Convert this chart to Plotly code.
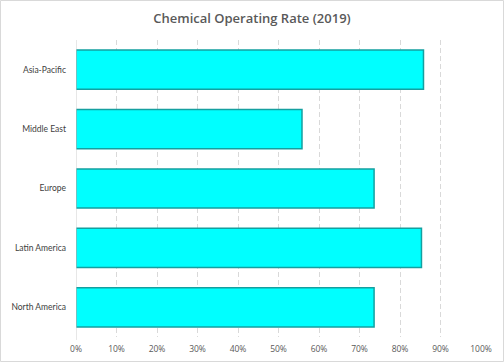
import plotly.graph_objects as go

regions = ["North America", "Latin America", "Europe", "Middle East", "Asia-Pacific"]
rates = [0.736, 0.853, 0.736, 0.558, 0.858]
tick_vals = [0, 0.1, 0.2, 0.3, 0.4, 0.5, 0.6, 0.7, 0.8, 0.9, 1.0]
tick_text = ["0%", "10%", "20%", "30%", "40%", "50%", "60%", "70%", "80%", "90%", "100%"]

W, H = 504, 362
L, R, T, B = 76, 23, 40, 25
pw, ph = W - L - R, H - T - B

fig = go.Figure()
fig.add_trace(go.Bar(
    y=regions, x=rates, orientation="h",
    marker=dict(color="#00FFFF", line=dict(color="#14a0a0", width=1.5)),
    hoverinfo="x+y",
))

fig.update_layout(
    width=W, height=H,
    margin=dict(l=L, r=R, t=T, b=B, autoexpand=False),
    paper_bgcolor="white", plot_bgcolor="white",
    bargap=0.34,
    showlegend=False,
    title=dict(text="Chemical Operating Rate (2019)", x=0.5, xanchor="center",
               y=1 - 18 / H, yanchor="middle", automargin=False,
               font=dict(family="Open Sans", size=13, weight=600, color="#595959")),
    font=dict(family="Open Sans", size=9, color="#595959"),
    xaxis=dict(range=[0, 1], tickvals=tick_vals, ticktext=tick_text,
               showgrid=True, gridcolor="#d9d9d9", griddash="5px,3px", gridwidth=1,
               zeroline=False, showline=False, ticks="", fixedrange=True,
               automargin=False, ticklabelstandoff=5,
               tickfont=dict(family="Open Sans", size=8.5, color="#595959")),
    yaxis=dict(showgrid=False, zeroline=False, showline=False, ticks="",
               automargin=False, ticklabelstandoff=9, fixedrange=True,
               tickfont=dict(family="Lato", size=8.5, color="#404040")),
    shapes=[
        dict(type="line", xref="x", yref="paper", x0=0, x1=0, y0=-0.01, y1=1,
             line=dict(color="#d0d0d0", width=1)),
        dict(type="rect", xref="paper", yref="paper",
             x0=(0.5 - L) / pw, x1=(W - 0.5 - L) / pw,
             y0=(H - B - (H - 0.5)) / ph, y1=(H - B - 0.5) / ph,
             line=dict(color="#d9d9d9", width=1), fillcolor="rgba(0,0,0,0)",
             layer="above"),
    ],
)

fig.write_html("out.html", config={"displayModeBar": False},
               post_script="document.body.style.margin='0';")
